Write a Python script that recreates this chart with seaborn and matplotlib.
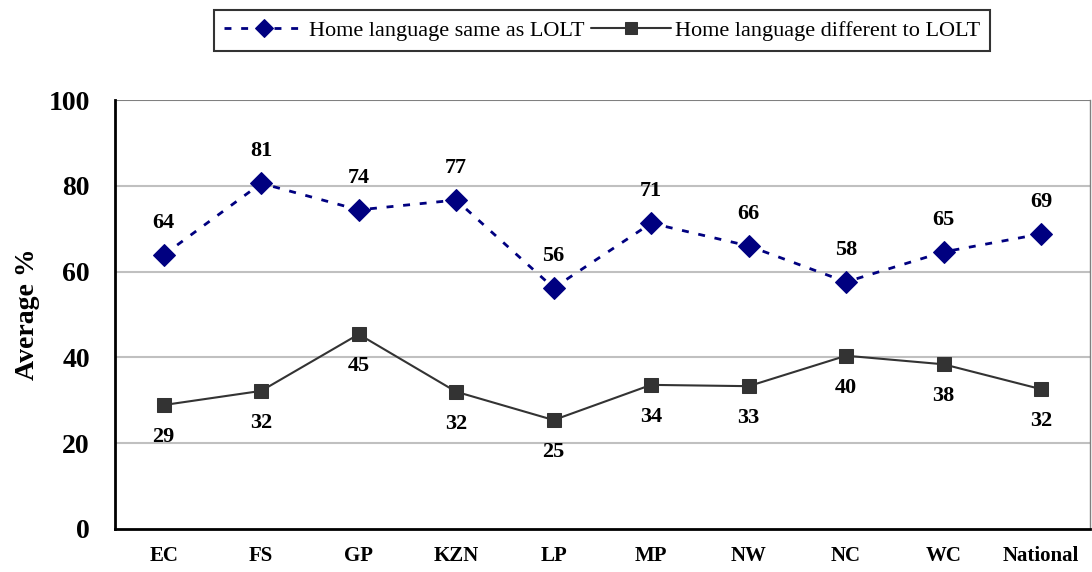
import matplotlib
matplotlib.use("Agg")
import matplotlib.pyplot as plt
import pandas as pd
import seaborn as sns

provinces = ["EC", "FS", "GP", "KZN", "LP", "MP", "NW", "NC", "WC", "National"]
same_lolt = [63.9, 80.6, 74.4, 76.7, 56.2, 71.3, 66.0, 57.6, 64.6, 68.8]
diff_lolt = [28.9, 32.2, 45.4, 32.0, 25.4, 33.6, 33.3, 40.4, 38.4, 32.6]
same_labels = [64, 81, 74, 77, 56, 71, 66, 58, 65, 69]
diff_labels = [29, 32, 45, 32, 25, 34, 33, 40, 38, 32]

sns.set_style("white")
plt.rcParams['font.family'] = ['Liberation Serif', 'DejaVu Serif']
plt.rcParams['text.color'] = 'black'
plt.rcParams['axes.labelcolor'] = 'black'
plt.rcParams['xtick.color'] = 'black'
plt.rcParams['ytick.color'] = 'black'

df = pd.DataFrame({"x": range(len(provinces)), "same": same_lolt, "diff": diff_lolt})

fig = plt.figure(figsize=(10.92, 5.72), dpi=100)
ax = fig.add_axes([0.1053, 0.0752, 0.8927, 0.7498])

sns.lineplot(data=df, x="x", y="same", ax=ax, color="#000080", marker="D",
             markersize=11, markeredgecolor="#000080", linewidth=2,
             linestyle=(0, (2.5, 3.5)), label="Home language same as LOLT")
sns.lineplot(data=df, x="x", y="diff", ax=ax, color="#333333", marker="s",
             markersize=10.5, markeredgecolor="#333333", linewidth=1.5,
             label="Home language different to LOLT")

for i, (v, lab) in enumerate(zip(same_lolt, same_labels)):
    ax.annotate(str(lab), (i, v), xytext=(0, 23), textcoords="offset points",
                ha="center", va="center", fontsize=16, fontweight="bold")
for i, (v, lab) in enumerate(zip(diff_lolt, diff_labels)):
    ax.annotate(str(lab), (i, v), xytext=(0, -23), textcoords="offset points",
                ha="center", va="center", fontsize=16, fontweight="bold")

ax.set_xlim(-0.5, len(provinces) - 0.5)
ax.set_ylim(0, 100)
ax.set_yticks([0, 20, 40, 60, 80, 100])
ax.set_yticklabels(["0", "20", "40", "60", "80", "100"], fontsize=20, fontweight="bold")
ax.set_xticks([i - 0.5 for i in range(len(provinces) + 1)])
ax.set_xticklabels([])
ax.set_xticks(range(len(provinces)), minor=True)
ax.set_xticklabels(provinces, minor=True, fontsize=15, fontweight="bold")
ax.tick_params(axis="x", which="minor", length=0, pad=12)
ax.tick_params(axis="x", which="major", direction="out", length=6, width=1.5, color="black")
ax.tick_params(axis="y", direction="out", length=8, width=1.5, color="black", pad=10)

ax.set_xlabel("")
ax.set_ylabel("Average %", fontsize=20, fontweight="bold", labelpad=6)

for y in [20, 40, 60, 80]:
    ax.axhline(y, color="#c0c0c0", linewidth=1.5, zorder=0)
ax.axhline(100, color="#808080", linewidth=1.5, zorder=0)

for s in ["left", "bottom"]:
    ax.spines[s].set_color("black")
    ax.spines[s].set_linewidth(2)
ax.spines["right"].set_color("#808080")
ax.spines["right"].set_linewidth(1)
ax.spines["top"].set_visible(False)

leg = ax.legend(loc="center", bbox_to_anchor=(0.5, 1.162), ncol=2, frameon=True,
                fancybox=False, edgecolor="black", fontsize=16, handlelength=3.6,
                handletextpad=0.2, columnspacing=0.3, borderpad=0.45, markerscale=0.8)
leg.get_frame().set_linewidth(1.5)

fig.savefig("out.png", dpi=100)
